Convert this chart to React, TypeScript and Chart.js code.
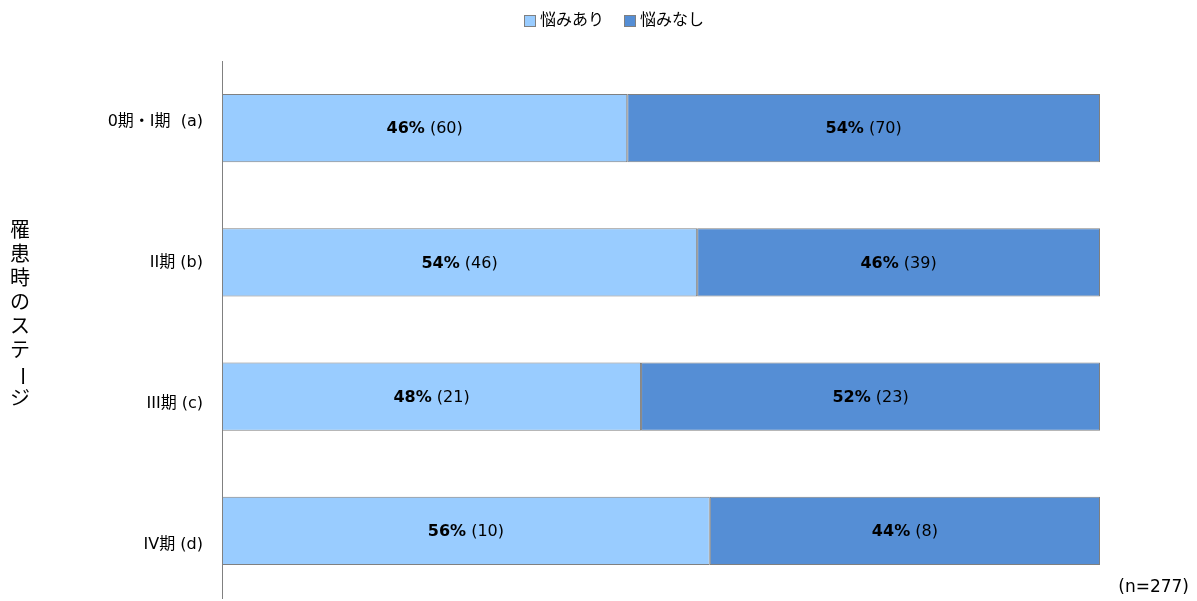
import React, { useEffect, useRef } from "react";
import { Chart, registerables } from "chart.js";

Chart.register(...registerables);

const categories = ["0期・I期  (a)", "II期 (b)", "III期 (c)", "IV期 (d)"];
const seriesNames = ["悩みあり", "悩みなし"];
const countsWith = [60, 46, 21, 10];
const countsWithout = [70, 39, 23, 8];
const yTitle = "罹患時のステージ";
const noteText = "(n=277)";
const colors = ["#99CCFF", "#558ED5"];

const FONT = "Verdana, 'DejaVu Sans', 'Noto Sans CJK JP', sans-serif";

export default function App() {
  const ref = useRef<HTMLCanvasElement>(null);
  useEffect(() => {
    document.body.style.margin = "0";
    const totals = countsWith.map((v, i) => v + countsWithout[i]);
    const pctWith = countsWith.map((v, i) => (v / totals[i]) * 100);
    const pctWithout = countsWithout.map((v, i) => (v / totals[i]) * 100);
    const counts = [countsWith, countsWithout];

    const overlay = {
      id: "overlay",
      afterDatasetsDraw(chart: any) {
        const ctx = chart.ctx;
        ctx.save();
        chart.data.datasets.forEach((ds: any, di: number) => {
          const meta = chart.getDatasetMeta(di);
          meta.data.forEach((bar: any, i: number) => {
            const cx = (bar.x + bar.base) / 2;
            const cy = bar.y;
            const p = Math.round(ds.data[i]) + "%";
            const c = " (" + counts[di][i] + ")";
            ctx.font = "bold 16px " + FONT;
            const w1 = ctx.measureText(p).width;
            ctx.font = "16px " + FONT;
            const w2 = ctx.measureText(c).width;
            const sx = cx - (w1 + w2) / 2;
            ctx.fillStyle = "#000";
            ctx.textBaseline = "middle";
            ctx.textAlign = "left";
            ctx.font = "bold 16px " + FONT;
            ctx.fillText(p, sx, cy + 1);
            ctx.font = "16px " + FONT;
            ctx.fillText(c, sx + w1, cy + 1);
          });
        });
        ctx.font = "16px " + FONT;
        ctx.textBaseline = "middle";
        ctx.textAlign = "left";
        let x = 524;
        const ly = 21;
        seriesNames.forEach((name, i) => {
          ctx.fillStyle = colors[i];
          ctx.fillRect(x, ly - 6, 12, 12);
          ctx.strokeStyle = "#808080";
          ctx.lineWidth = 1;
          ctx.strokeRect(x + 0.5, ly - 5.5, 11, 11);
          ctx.fillStyle = "#000";
          ctx.fillText(name, x + 16, ly);
          x += 16 + ctx.measureText(name).width + 20;
        });
        ctx.font = "20px " + FONT;
        ctx.textAlign = "center";
        ctx.textBaseline = "middle";
        ctx.fillStyle = "#000";
        const chars = Array.from(yTitle);
        chars.forEach((ch, i) => {
          const cy = 232 + i * 24;
          if (ch === "ー") {
            ctx.save();
            ctx.translate(20, cy);
            ctx.rotate(Math.PI / 2);
            ctx.fillText(ch, 0, 0);
            ctx.restore();
          } else {
            ctx.fillText(ch, 20, cy);
          }
        });
        ctx.font = "17px " + FONT;
        ctx.textAlign = "right";
        ctx.textBaseline = "middle";
        ctx.fillText(noteText, 1189, 588);
        ctx.restore();
      },
    };

    const chart = new Chart(ref.current!, {
      type: "bar",
      data: {
        labels: categories,
        datasets: [
          {
            label: seriesNames[0],
            data: pctWith,
            backgroundColor: colors[0],
            borderColor: "#808080",
            borderWidth: 1,
            borderSkipped: false,
            barPercentage: 1,
            categoryPercentage: 0.507,
          },
          {
            label: seriesNames[1],
            data: pctWithout,
            backgroundColor: colors[1],
            borderColor: "#808080",
            borderWidth: 1,
            borderSkipped: false,
            barPercentage: 1,
            categoryPercentage: 0.507,
          },
        ],
      },
      options: {
        indexAxis: "y",
        animation: false,
        responsive: false,
        maintainAspectRatio: false,
        layout: { padding: { top: 61, bottom: 3, right: 97, left: 0 } },
        plugins: {
          legend: { display: false },
          tooltip: { enabled: false },
        },
        scales: {
          x: {
            display: false,
            stacked: true,
            min: 0,
            max: 100,
          },
          y: {
            stacked: true,
            weight: 1,
            grid: { display: false, drawTicks: false },
            border: { display: true, color: "#808080", width: 1 },
            ticks: { display: false },
            afterFit(scale: any) {
              scale.width = 0;
            },
          },
          yl: {
            type: "linear",
            position: "left",
            weight: 2,
            reverse: true,
            offset: false,
            bounds: "data",
            min: 0.567,
            max: 4.376,
            grid: { display: false, offset: false, drawTicks: true, tickLength: 19 },
            border: { display: false },
            ticks: {
              color: "#000",
              font: { family: FONT, size: 16, lineHeight: 0.3 },
              padding: 0,
              callback: (v: any) => categories[Math.round(v) - 1] ?? "",
            },
            afterBuildTicks(scale: any) {
              scale.ticks = categories.map((_, i) => ({ value: i + 1 }));
            },
            afterDataLimits(scale: any) {
              scale.min = 0.567;
              scale.max = 4.376;
            },
            afterFit(scale: any) {
              scale.width = 222;
            },
          },
        },
      },
      plugins: [overlay],
    });
    return () => chart.destroy();
  }, []);
  return <canvas ref={ref} width={1197} height={601} style={{ display: "block" }} />;
}
